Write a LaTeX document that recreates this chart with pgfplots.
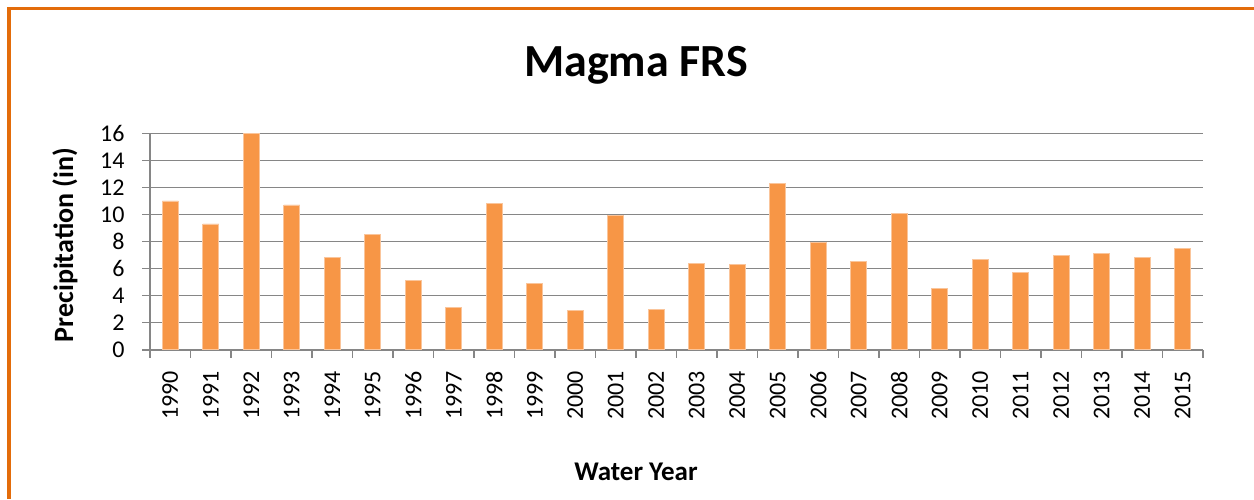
\documentclass[border=0pt]{standalone}
\usepackage{pgfplots}
\pgfplotsset{compat=1.18}
\usepackage{fontspec}
\setmainfont{Carlito}
\definecolor{barorange}{HTML}{F79646}
\definecolor{baredge}{HTML}{FAC59B}
\definecolor{gridgray}{HTML}{868686}
\definecolor{border}{HTML}{E36C0A}
\begin{document}
\begin{tikzpicture}
\useasboundingbox (0pt,0pt) rectangle (1254pt,499pt);
\fill[white] (0pt,0pt) rectangle (1254pt,499pt);
\draw[border, line width=3.3pt] (9pt,0pt) -- (9pt,490.3pt) -- (1254pt,490.3pt);
\node[font=\fontsize{46}{46}\selectfont\bfseries, anchor=base] at (636pt,422pt) {Magma FRS};
\node[font=\fontsize{28}{28}\selectfont\bfseries, rotate=90] at (65pt,254pt) {Precipitation (in)};
\node[font=\fontsize{27}{27}\selectfont\bfseries] at (636pt,27pt) {Water Year};
\begin{axis}[
  at={(150pt,149.3pt)}, anchor=south west,
  width=1053pt, height=216.4pt, scale only axis,
  xmin=-0.5, xmax=25.5, ymin=0, ymax=16,
  ytick={0,2,...,16},
  xtick={-0.5,0.5,...,25.5},
  x tick label as interval,
  xticklabels={1990,1991,1992,1993,1994,1995,1996,1997,1998,1999,2000,2001,2002,2003,2004,2005,2006,2007,2008,2009,2010,2011,2012,2013,2014,2015},
  axis lines*=left,
  axis line style={gridgray, line width=1.6pt},
  every tick/.style={gridgray, line width=1.6pt},
  major tick length=8pt,
  tick align=outside,
  ymajorgrids,
  grid style={gridgray, line width=1.6pt},
  /pgf/number format/assume math mode=true,
  tick label style={font=\fontsize{24}{24}\selectfont, black},
  x tick label style={rotate=90, anchor=east, xshift=-10pt},
  y tick label style={xshift=-14pt},
  clip=false,
]
\addplot[ybar, bar width=16pt, fill=barorange, draw=baredge, line width=0.8pt] coordinates {
(0,11.0) (1,9.3) (2,16.0) (3,10.7) (4,6.8) (5,8.5) (6,5.1) (7,3.1) (8,10.8) (9,4.9)
(10,2.9) (11,9.9) (12,3.0) (13,6.4) (14,6.3) (15,12.3) (16,7.9) (17,6.5) (18,10.1) (19,4.5)
(20,6.7) (21,5.7) (22,7.0) (23,7.1) (24,6.8) (25,7.5)
};
\end{axis}
\end{tikzpicture}
\end{document}
